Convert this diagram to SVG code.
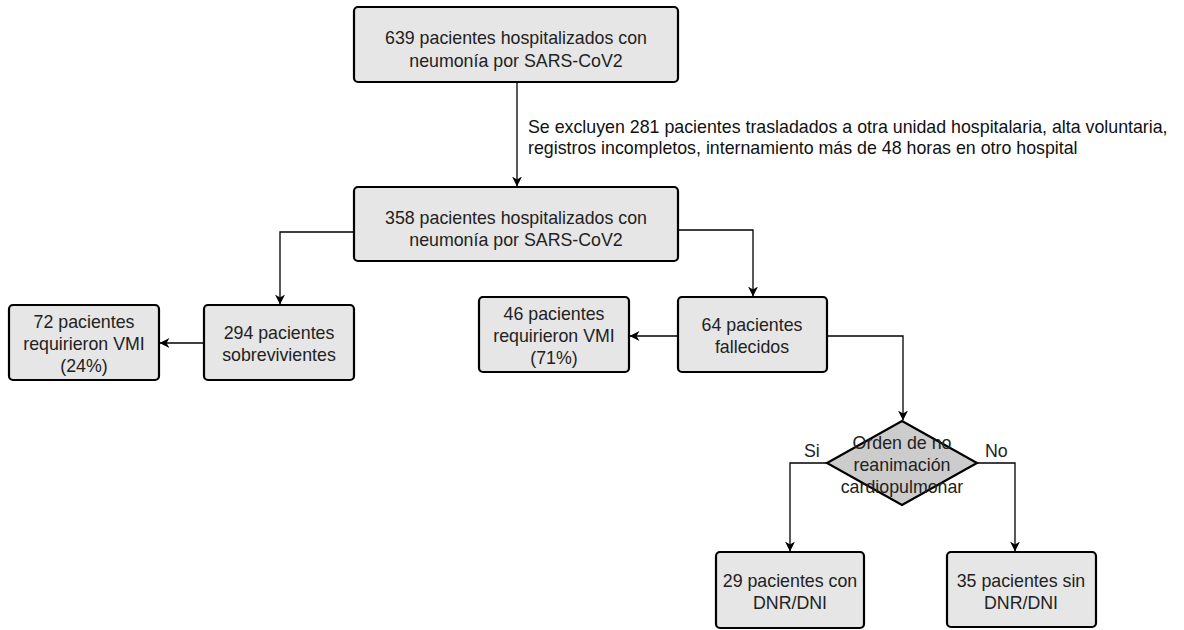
<svg xmlns="http://www.w3.org/2000/svg" width="1184" height="630" viewBox="0 0 1184 630">
<style>
.box{fill:#e6e6e6;stroke:#000;stroke-width:2.2}
.dia{fill:#cccccc;stroke:#000;stroke-width:2.2}
.t{font-family:"Liberation Sans",Arial,sans-serif;font-size:17.8px;fill:#222;text-anchor:middle}
.n{font-family:"Liberation Sans",Arial,sans-serif;font-size:17.8px;fill:#111}
.lbl{font-family:"Liberation Sans",Arial,sans-serif;font-size:17.8px;fill:#222}
.c{fill:none;stroke:#000;stroke-width:1.3}
</style>
<defs>
<marker id="ar" viewBox="0 0 10 10" refX="9.5" refY="5" markerWidth="10" markerHeight="10" markerUnits="userSpaceOnUse" orient="auto">
<path d="M0,0 L10,5 L0,10 L3,5 Z" fill="#000"/>
</marker>
</defs>
<rect width="1184" height="630" fill="#fff"/>
<g id="connectors">
<path class="c" d="M517,82 V186" marker-end="url(#ar)"/>
<path class="c" d="M354,232 H280 V304" marker-end="url(#ar)"/>
<path class="c" d="M204,343 H160" marker-end="url(#ar)"/>
<path class="c" d="M678,230 H753 V296" marker-end="url(#ar)"/>
<path class="c" d="M678,336 H630" marker-end="url(#ar)"/>
<path class="c" d="M827,336 H903 V420" marker-end="url(#ar)"/>
<path class="c" d="M827,463 H790 V551" marker-end="url(#ar)"/>
<path class="c" d="M977,463 H1015 V551" marker-end="url(#ar)"/>
<text class="n" x="528" y="133">Se excluyen 281 pacientes trasladados a otra unidad hospitalaria, alta voluntaria,</text>
<text class="n" x="528" y="154">registros incompletos, internamiento más de 48 horas en otro hospital</text>
<text class="lbl" x="804" y="457">Si</text>
<text class="lbl" x="985" y="457">No</text>
</g>
<g id="n1">
<rect class="box" x="354" y="7" width="324" height="75" rx="4"/>
<text class="t" x="516" y="44">639 pacientes hospitalizados con</text>
<text class="t" x="516" y="67">neumonía por SARS-CoV2</text>
</g>
<g id="n2">
<rect class="box" x="354" y="187" width="324" height="74" rx="4"/>
<text class="t" x="516" y="224">358 pacientes hospitalizados con</text>
<text class="t" x="516" y="246">neumonía por SARS-CoV2</text>
</g>
<g id="n3">
<rect class="box" x="204" y="305" width="150" height="75" rx="4"/>
<text class="t" x="279" y="339">294 pacientes</text>
<text class="t" x="279" y="361">sobrevivientes</text>
</g>
<g id="n4">
<rect class="box" x="9" y="305" width="150" height="75" rx="4"/>
<text class="t" x="84" y="328">72 pacientes</text>
<text class="t" x="84" y="350">requirieron VMI</text>
<text class="t" x="84" y="372">(24%)</text>
</g>
<g id="n5">
<rect class="box" x="678" y="297" width="149" height="75" rx="4"/>
<text class="t" x="752" y="331">64 pacientes</text>
<text class="t" x="752" y="353">fallecidos</text>
</g>
<g id="n6">
<rect class="box" x="479" y="297" width="150" height="75" rx="4"/>
<text class="t" x="554" y="320">46 pacientes</text>
<text class="t" x="554" y="342">requirieron VMI</text>
<text class="t" x="554" y="364">(71%)</text>
</g>
<g id="n7">
<polygon class="dia" points="902,421 977,463 902,505 827,463"/>
<text class="t" x="902" y="449">Orden de no</text>
<text class="t" x="902" y="471">reanimación</text>
<text class="t" x="902" y="493">cardiopulmonar</text>
</g>
<g id="n8">
<rect class="box" x="716" y="552" width="148" height="76" rx="4"/>
<text class="t" x="790" y="587">29 pacientes con</text>
<text class="t" x="790" y="609">DNR/DNI</text>
</g>
<g id="n9">
<rect class="box" x="947" y="552" width="149" height="75" rx="4"/>
<text class="t" x="1021" y="587">35 pacientes sin</text>
<text class="t" x="1021" y="609">DNR/DNI</text>
</g>
</svg>
